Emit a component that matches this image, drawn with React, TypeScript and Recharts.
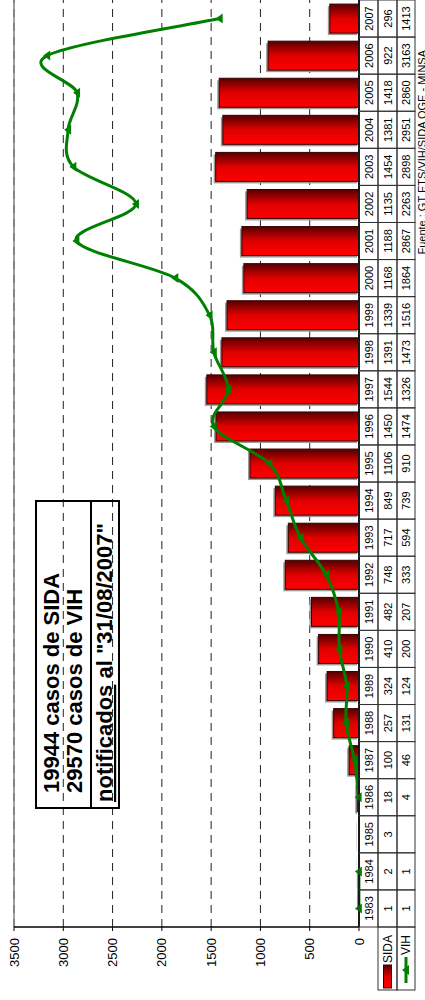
import React from 'react';
import {
  ComposedChart,
  Bar,
  Line,
  XAxis,
  YAxis,
  CartesianGrid,
  ReferenceLine,
  Legend
} from 'recharts';

const years = [
  '1983', '1984', '1985', '1986', '1987', '1988', '1989', '1990', '1991', '1992', '1993', '1994', '1995',
  '1996', '1997', '1998', '1999', '2000', '2001', '2002', '2003', '2004', '2005', '2006', '2007'
];
const sida = [
  1, 2, 3, 18, 100, 257, 324, 410, 482, 748, 717, 849, 1106,
  1450, 1544, 1391, 1339, 1168, 1188, 1135, 1454, 1381, 1418, 922, 296
];
const vih = [
  1, 1, null, 4, 46, 131, 124, 200, 207, 333, 594, 739, 910,
  1474, 1326, 1473, 1516, 1864, 2867, 2263, 2898, 2951, 2860, 3163, 1413
];
const valueTicks = [0, 500, 1000, 1500, 2000, 2500, 3000, 3500];

const chartData = years.map((year, i) => ({ year, SIDA: sida[i], VIH: vih[i] }));

const FONT = '"Liberation Sans", Arial, sans-serif';
const W = 1000;
const H = 425;
// table rows under the category axis
const rowTops = [0, 19, 38];
const rowHeights = [19, 19, 18];

// excel style smoothing (catmull-rom through the points)
const excelCurve: any = (context: any) => {
  let pts: number[][] = [];
  return {
    areaStart() {},
    areaEnd() {},
    lineStart() {
      pts = [];
    },
    lineEnd() {
      if (!pts.length) return;
      context.moveTo(pts[0][0], pts[0][1]);
      for (let i = 0; i < pts.length - 1; i++) {
        const p0 = pts[i - 1] || pts[i];
        const p1 = pts[i];
        const p2 = pts[i + 1];
        const p3 = pts[i + 2] || p2;
        context.bezierCurveTo(
          p1[0] + (p2[0] - p0[0]) / 6,
          p1[1] + (p2[1] - p0[1]) / 6,
          p2[0] - (p3[0] - p1[0]) / 6,
          p2[1] - (p3[1] - p1[1]) / 6,
          p2[0],
          p2[1]
        );
      }
    },
    point(x: number, y: number) {
      pts.push([+x, +y]);
    }
  };
};

const TableTick = (props: any) => {
  const { x, y, index, width, visibleTicksCount } = props;
  const band = width && visibleTicksCount ? width / visibleTicksCount : 927 / 25;
  const left = x - band / 2;
  const cells = [years[index], sida[index], vih[index] == null ? '' : vih[index]];
  return (
    <g>
      {cells.map((v, r) => (
        <g key={r}>
          <rect x={left} y={y + rowTops[r]} width={band} height={rowHeights[r]} fill="none" stroke="#333" strokeWidth={1} />
          <text
            x={x}
            y={y + rowTops[r] + rowHeights[r] / 2 + 4}
            textAnchor="middle"
            fontSize={11}
            fontFamily={FONT}
            fill="#000"
          >
            {v}
          </text>
        </g>
      ))}
    </g>
  );
};

const SidaBar = (p: any) => {
  const { x, y, width, height } = p;
  if (!height || height <= 0) return <g />;
  return (
    <g>
      <rect x={x - 2} y={y - 2} width={width} height={height} fill="#9a9a9a" />
      <rect x={x} y={y} width={width} height={height} fill="url(#sidaGrad)" stroke="#3a0000" strokeWidth={1} />
    </g>
  );
};

const Marker = ({ cx, cy, fill }: any) => (
  <polygon points={`${cx},${cy - 4} ${cx - 5},${cy + 3} ${cx + 5},${cy + 3}`} fill={fill} />
);

const VihDot = (p: any) => {
  if (p.cx == null || p.cy == null || p.value == null) return <g key={`d-${p.index}`} />;
  return <Marker key={`d-${p.index}`} cx={p.cx} cy={p.cy} fill="#008000" />;
};

const LegendCells = (props: any) => {
  const payload = props.payload || [];
  return (
    <svg width={80} height={H} style={{ display: 'block' }}>
      <defs>
        <linearGradient id="legGrad" x1="0" y1="0" x2="1" y2="0">
          <stop offset="0%" stopColor="#ff0000" />
          <stop offset="50%" stopColor="#e00000" />
          <stop offset="100%" stopColor="#550000" />
        </linearGradient>
      </defs>
      {payload.map((entry: any, i: number) => {
        const top = 359 + rowTops[i + 1];
        const h = rowHeights[i + 1];
        const mid = top + h / 2;
        const isLine = entry.type === 'line';
        return (
          <g key={entry.value}>
            <rect x={10} y={top} width={63} height={h} fill="none" stroke="#333" strokeWidth={1} />
            {isLine ? (
              <g>
                <line x1={17} y1={mid} x2={43} y2={mid} stroke="#008000" strokeWidth={3} />
                <Marker cx={30} cy={mid} fill="#008000" />
              </g>
            ) : (
              <rect x={12} y={mid - 4} width={23} height={8} fill="url(#legGrad)" stroke="#3a0000" strokeWidth={1} />
            )}
            <text x={isLine ? 45 : 37} y={mid + 4} fontSize={12} fontFamily={FONT} fill="#000">
              {entry.value}
            </text>
          </g>
        );
      })}
    </svg>
  );
};

export default function App() {
  return (
    <div style={{ position: 'fixed', left: 0, top: 0, width: H, height: W, overflow: 'hidden', background: '#fff' }}>
      <div
        style={{
          position: 'absolute',
          left: 0,
          top: 0,
          width: W,
          height: H,
          transformOrigin: '0 0',
          transform: `translate(0px, ${W}px) rotate(-90deg)`
        }}
      >
        <ComposedChart
          width={W}
          height={H}
          data={chartData}
          margin={{ top: 14, right: 0, bottom: 0, left: 0 }}
          barSize={29}
        >
          <defs>
            <linearGradient id="sidaGrad" x1="0" y1="0" x2="1" y2="0">
              <stop offset="0%" stopColor="#ff0000" />
              <stop offset="50%" stopColor="#e00000" />
              <stop offset="100%" stopColor="#550000" />
            </linearGradient>
          </defs>
          <CartesianGrid vertical={false} stroke="#222" strokeDasharray="8 6" />
          <ReferenceLine y={3500} stroke="#808080" strokeWidth={1.5} />
          <XAxis
            dataKey="year"
            type="category"
            height={66}
            interval={0}
            tickLine={false}
            tickSize={0}
            tickMargin={0}
            axisLine={{ stroke: '#000', strokeWidth: 2 }}
            tick={<TableTick />}
          />
          <YAxis
            width={73}
            domain={[0, 3500]}
            ticks={valueTicks}
            interval={0}
            tickSize={4}
            tickMargin={7}
            axisLine={{ stroke: '#000', strokeWidth: 1.5 }}
            tickLine={{ stroke: '#000' }}
            tick={{ fontSize: 13, fontFamily: FONT, fill: '#000' }}
          />
          <Bar dataKey="SIDA" name="SIDA" legendType="rect" shape={<SidaBar />} isAnimationActive={false} />
          <Line
            dataKey="VIH"
            name="VIH"
            legendType="line"
            type={excelCurve}
            stroke="#008000"
            strokeWidth={3}
            dot={VihDot}
            activeDot={false}
            connectNulls={false}
            isAnimationActive={false}
          />
          <Legend
            layout="vertical"
            align="center"
            verticalAlign="middle"
            content={<LegendCells />}
            wrapperStyle={{ left: 0, top: 0, width: 80, height: H }}
          />
        </ComposedChart>
        <svg
          width={W}
          height={H}
          style={{ position: 'absolute', left: 0, top: 0, pointerEvents: 'none' }}
        >
          <rect x={192} y={36} width={307} height={83} fill="none" stroke="#000" strokeWidth={2} />
          <line x1={192} y1={91} x2={499} y2={91} stroke="#000" strokeWidth={2} />
          <text x={207} y={59} fontSize={22} fontWeight="bold" fontFamily={FONT} fill="#000">
            19944 casos de SIDA
          </text>
          <text x={207} y={82} fontSize={22} fontWeight="bold" fontFamily={FONT} fill="#000">
            29570 casos de VIH
          </text>
          <text x={198} y={112} fontSize={22} fontWeight="bold" fontFamily={FONT} fill="#000">
            <tspan textDecoration="underline">notificados</tspan> al "31/08/2007"
          </text>
          <text x={950} y={426} textAnchor="end" fontSize={11} fontFamily={FONT} fill="#000">
            Fuente : GT ETS/VIH/SIDA OGE - MINSA
          </text>
        </svg>
      </div>
    </div>
  );
}
